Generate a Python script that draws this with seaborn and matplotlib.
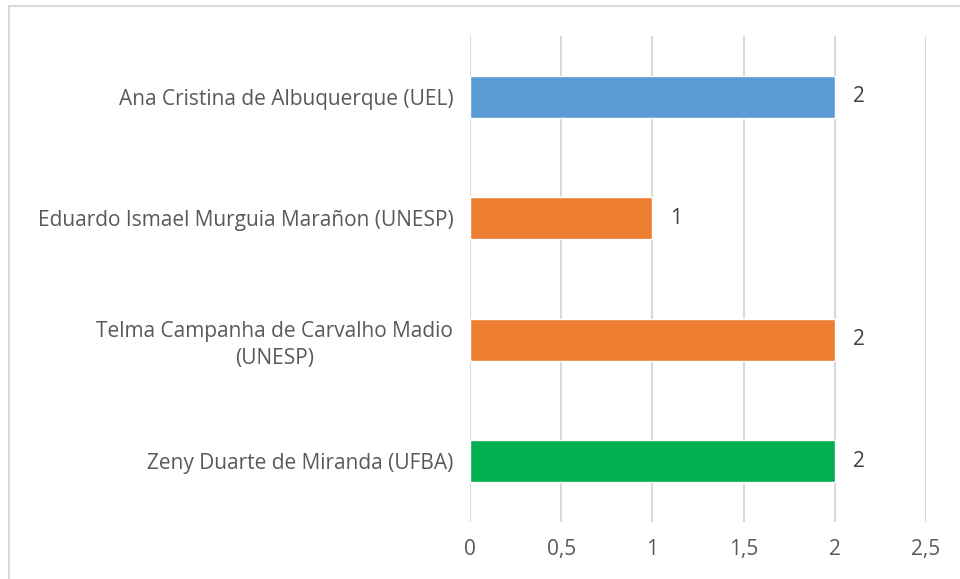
import matplotlib
matplotlib.use("Agg")
import matplotlib.pyplot as plt
import matplotlib.patches as mpatches
import seaborn as sns
import pandas as pd

# datos
autores = [
    "Ana Cristina de Albuquerque (UEL)",
    "Eduardo Ismael Murguia Marañon (UNESP)",
    "Telma Campanha de Carvalho Madio\n(UNESP)",
    "Zeny Duarte de Miranda (UFBA)",
]
valores = [2, 1, 2, 2]
colores = ["#5B9BD5", "#ED7D31", "#ED7D31", "#00B050"]
xticks = [0, 0.5, 1, 1.5, 2, 2.5]
xtick_labels = ["0", "0,5", "1", "1,5", "2", "2,5"]

df = pd.DataFrame({"autor": autores, "valor": valores})

sns.set_style("white")
plt.rcParams["font.family"] = ["Open Sans", "DejaVu Sans"]
texto = "#595959"

fig = plt.figure(figsize=(9.6, 5.79), dpi=100)
ax = fig.add_axes([470 / 960, 1 - 522 / 579, (926 - 470) / 960, (522 - 36) / 579])

sns.barplot(data=df, y="autor", x="valor", hue="autor", palette=colores,
            orient="h", width=0.346, legend=False, ax=ax, saturation=1)

ax.set_xlim(0, 2.5)
ax.set_ylim(3.5, -0.5)
ax.set_xticks(xticks)
ax.set_xticklabels(xtick_labels)
ax.grid(axis="x", color="#D9D9D9", linewidth=1.5)
ax.set_axisbelow(True)
for s in ax.spines.values():
    s.set_visible(False)
ax.set_xlabel("")
ax.set_ylabel("")
ax.tick_params(axis="both", length=0, labelsize=15, labelcolor=texto)
ax.tick_params(axis="x", pad=12)
ax.tick_params(axis="y", pad=12)
for lbl in ax.get_yticklabels():
    lbl.set_multialignment("center")
    lbl.set_linespacing(1.35)

for cont in ax.containers:
    ax.bar_label(cont, fmt="%g", padding=13, fontsize=15, color="#404040")

# borde del gráfico
fig.patches.append(mpatches.Rectangle((9 / 960, -0.1), 1.2, 1.1 - 6 / 579,
                                      transform=fig.transFigure, fill=False,
                                      edgecolor="#D9D9D9", linewidth=1.5))

fig.savefig("out.png", dpi=100)
